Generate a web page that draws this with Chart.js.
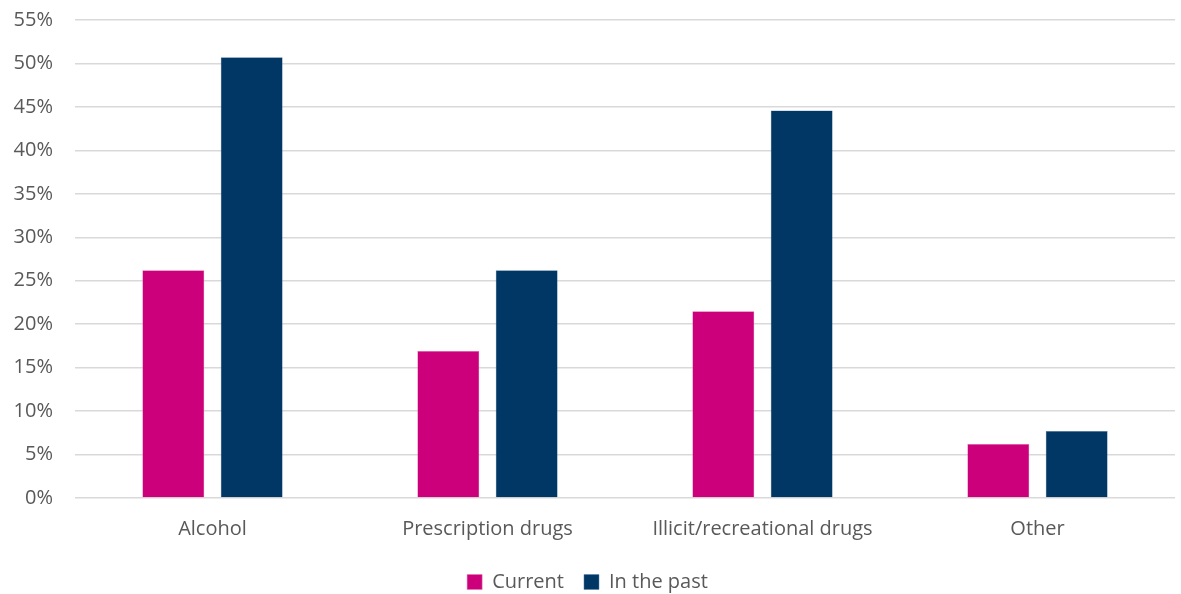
<!DOCTYPE html>
<html>
<head>
<meta charset="utf-8">
<script src="https://cdn.jsdelivr.net/npm/chart.js@4"></script>
<style>
html,body{margin:0;padding:0;background:#fff;}
#wrap{width:1181px;height:594px;position:relative;}
</style>
</head>
<body>
<div id="wrap"><canvas id="c" width="1181" height="594"></canvas></div>
<script>
const categories = ["Alcohol", "Prescription drugs", "Illicit/recreational drugs", "Other"];
const currentValues = [26.2, 16.9, 21.5, 6.2];
const pastValues = [50.7, 26.2, 44.6, 7.7];
const seriesNames = ["Current", "In the past"];
const yTicks = [0,5,10,15,20,25,30,35,40,45,50,55];

const FONT = "'Open Sans', 'Noto Sans', sans-serif";
new Chart(document.getElementById('c'), {
  type: 'bar',
  data: {
    labels: categories,
    datasets: [
      {label: seriesNames[0], data: currentValues, backgroundColor: '#CC007A', borderColor:'#e070b0', borderWidth:0.5, categoryPercentage: 0.57, barPercentage: 0.79},
      {label: seriesNames[1], data: pastValues, backgroundColor: '#003764', borderColor:'#5a7fa6', borderWidth:0.5, categoryPercentage: 0.57, barPercentage: 0.79}
    ]
  },
  options: {
    responsive: false,
    animation: false,
    layout: {padding: {left: 0, right: 6, top: 20, bottom: -8}},
    plugins: {
      legend: {
        position: 'bottom',
        labels: {boxWidth: 15, boxHeight: 15, color: '#595959', font: {family: FONT, size: 20}, padding: 20}
      },
      tooltip: {enabled: false}
    },
    scales: {
      x: {
        grid: {display: false},
        border: {display: false},
        ticks: {color: '#595959', font: {family: FONT, size: 20}, padding: 11}
      },
      y: {
        min: 0, max: 55,
        afterBuildTicks: (axis) => { axis.ticks = yTicks.map(v => ({value: v})); },
        afterFit: (axis) => { axis.width = 75; axis.paddingTop = 0; axis.paddingBottom = 0; },
        grid: {color: '#d9d9d9', lineWidth: 1.5, drawTicks: false},
        border: {display: false},
        ticks: {color: '#595959', font: {family: FONT, size: 20}, padding: 22, callback: v => v + '%'}
      }
    }
  }
});
</script>
</body>
</html>
